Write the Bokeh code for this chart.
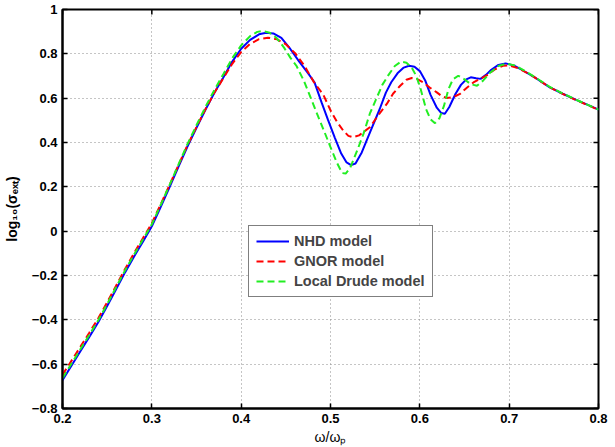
from bokeh.plotting import figure
from bokeh.models import Range1d, FixedTicker, Legend, LegendItem
from bokeh.embed import file_html
from bokeh.resources import INLINE

# Extinction cross-section spectra, log10(sigma_ext) vs omega/omega_p
nhd_x = [0.200, 0.210, 0.220, 0.230, 0.240, 0.250, 0.260, 0.270, 0.280, 0.290,
         0.300, 0.310, 0.320, 0.330, 0.340, 0.350, 0.360, 0.370, 0.380, 0.390,
         0.400, 0.410, 0.420, 0.428, 0.436, 0.445, 0.455, 0.465, 0.475, 0.482,
         0.490, 0.497, 0.505, 0.512, 0.518, 0.523, 0.528, 0.535, 0.545, 0.555,
         0.562, 0.568, 0.575, 0.582, 0.588, 0.594, 0.600, 0.606, 0.612, 0.619,
         0.624, 0.628, 0.633, 0.640, 0.646, 0.652, 0.657, 0.663, 0.668, 0.674,
         0.680, 0.688, 0.696, 0.705, 0.715, 0.730, 0.745, 0.760, 0.775, 0.790,
         0.800]
nhd_y = [-0.672, -0.607, -0.542, -0.477, -0.411, -0.338, -0.262, -0.186, -0.115, -0.048,
         0.022, 0.110, 0.200, 0.292, 0.383, 0.466, 0.548, 0.624, 0.693, 0.765,
         0.823, 0.863, 0.888, 0.895, 0.892, 0.872, 0.822, 0.765, 0.712, 0.672,
         0.581, 0.504, 0.420, 0.350, 0.310, 0.298, 0.305, 0.355, 0.454, 0.550,
         0.625, 0.672, 0.712, 0.738, 0.746, 0.742, 0.722, 0.680, 0.615, 0.557,
         0.533, 0.530, 0.560, 0.620, 0.660, 0.685, 0.694, 0.690, 0.687, 0.705,
         0.728, 0.750, 0.757, 0.748, 0.726, 0.690, 0.650, 0.620, 0.592, 0.566,
         0.548]

gnor_x = [0.200, 0.210, 0.220, 0.230, 0.240, 0.250, 0.260, 0.270, 0.280, 0.290,
          0.300, 0.310, 0.320, 0.330, 0.340, 0.350, 0.360, 0.370, 0.380, 0.390,
          0.400, 0.410, 0.420, 0.430, 0.440, 0.450, 0.461, 0.471, 0.481, 0.492,
          0.500, 0.507, 0.514, 0.520, 0.525, 0.532, 0.544, 0.553, 0.563, 0.570,
          0.578, 0.585, 0.591, 0.597, 0.604, 0.612, 0.619, 0.625, 0.630, 0.637,
          0.645, 0.652, 0.660, 0.668, 0.675, 0.684, 0.693, 0.700, 0.710, 0.725,
          0.745, 0.760, 0.775, 0.790, 0.800]
gnor_y = [-0.648, -0.585, -0.522, -0.458, -0.393, -0.321, -0.246, -0.171, -0.100, -0.032,
          0.036, 0.122, 0.210, 0.300, 0.389, 0.470, 0.550, 0.624, 0.690, 0.755,
          0.808, 0.845, 0.866, 0.873, 0.866, 0.843, 0.800, 0.745, 0.675, 0.615,
          0.545, 0.495, 0.455, 0.430, 0.424, 0.432, 0.469, 0.520, 0.574, 0.620,
          0.656, 0.683, 0.691, 0.686, 0.671, 0.645, 0.626, 0.608, 0.601, 0.604,
          0.619, 0.645, 0.671, 0.688, 0.703, 0.730, 0.746, 0.748, 0.735, 0.703,
          0.650, 0.619, 0.591, 0.565, 0.547]

drude_x = [0.200, 0.210, 0.220, 0.230, 0.240, 0.250, 0.260, 0.270, 0.280, 0.290,
           0.300, 0.310, 0.320, 0.330, 0.340, 0.350, 0.360, 0.370, 0.380, 0.390,
           0.400, 0.410, 0.418, 0.424, 0.432, 0.440, 0.448, 0.455, 0.462, 0.470,
           0.478, 0.485, 0.493, 0.500, 0.507, 0.513, 0.517, 0.522, 0.530, 0.537,
           0.544, 0.552, 0.558, 0.565, 0.572, 0.579, 0.585, 0.591, 0.596, 0.601,
           0.607, 0.612, 0.617, 0.622, 0.627, 0.632, 0.637, 0.643, 0.650, 0.657,
           0.664, 0.671, 0.679, 0.688, 0.697, 0.706, 0.716, 0.730, 0.745, 0.760,
           0.775, 0.790, 0.800]
drude_y = [-0.663, -0.598, -0.533, -0.468, -0.402, -0.329, -0.253, -0.177, -0.106, -0.038,
           0.031, 0.119, 0.210, 0.302, 0.394, 0.478, 0.560, 0.637, 0.708, 0.780,
           0.838, 0.880, 0.899, 0.903, 0.895, 0.870, 0.828, 0.783, 0.745, 0.680,
           0.600, 0.529, 0.450, 0.379, 0.310, 0.262, 0.260, 0.285, 0.365, 0.440,
           0.530, 0.604, 0.660, 0.705, 0.745, 0.765, 0.760, 0.738, 0.700, 0.640,
           0.550, 0.505, 0.487, 0.510, 0.565, 0.640, 0.685, 0.701, 0.685, 0.663,
           0.656, 0.680, 0.716, 0.745, 0.756, 0.748, 0.727, 0.692, 0.652, 0.621,
           0.593, 0.566, 0.548]

series_names = ["NHD model", "GNOR model", "Local Drude model"]

x_ticks = [0.2, 0.3, 0.4, 0.5, 0.6, 0.7, 0.8]
x_tick_labels = ["0.2", "0.3", "0.4", "0.5", "0.6", "0.7", "0.8"]
y_ticks = [-0.8, -0.6, -0.4, -0.2, 0, 0.2, 0.4, 0.6, 0.8, 1]
y_tick_labels = ["\u22120.8", "\u22120.6", "\u22120.4", "\u22120.2", "0",
                 "0.2", "0.4", "0.6", "0.8", "1"]

x_title = "\u03c9/\u03c9\u209a"
y_title = "log\u2081\u2080(\u03c3\u2091\u2093\u209c)"

FONT = "Liberation Sans"
X0, X1 = 0.2, 0.8
Y0, Y1 = -0.8, 1.0
W, H = 615, 447
LEFT, RIGHT, TOP, BOTTOM = 62, 17, 9, 37
FW, FH = W - LEFT - RIGHT, H - TOP - BOTTOM
TICK = 5  # inward tick length, px

p = figure(width=W, height=H, output_backend="svg", toolbar_location=None,
           x_range=Range1d(X0, X1), y_range=Range1d(Y0, Y1),
           min_border_left=LEFT, min_border_right=RIGHT,
           min_border_top=TOP, min_border_bottom=BOTTOM,
           background_fill_color="white", border_fill_color="white")
p.outline_line_color = "black"
p.outline_line_width = 2

p.xaxis.ticker = FixedTicker(ticks=x_ticks)
p.yaxis.ticker = FixedTicker(ticks=y_ticks)
p.xaxis.major_label_overrides = dict(zip(x_ticks, x_tick_labels))
p.yaxis.major_label_overrides = dict(zip(y_ticks, y_tick_labels))
for ax in p.axis:
    ax.major_tick_in = TICK
    ax.major_tick_out = 0
    ax.minor_tick_line_color = None
    ax.major_tick_line_width = 1.5
    ax.major_tick_line_color = "black"
    ax.axis_line_color = "black"
    ax.axis_line_width = 2
    ax.major_label_text_font = FONT
    ax.major_label_text_font_style = "bold"
    ax.major_label_text_font_size = "13px"
    ax.major_label_text_color = "black"
    ax.major_label_standoff = 5
    ax.axis_label_text_font = FONT
    ax.axis_label_text_color = "black"

p.yaxis.axis_label = y_title
p.yaxis.axis_label_text_font_style = "bold"
p.yaxis.axis_label_text_font_size = "14px"
p.yaxis.axis_label_standoff = 9
p.xaxis.axis_label = x_title
p.xaxis.axis_label_text_font_style = "normal"
p.xaxis.axis_label_text_font_size = "14px"
p.xaxis.axis_label_standoff = 3

# inward tick marks on the top and right edges of the box
tx = TICK * (X1 - X0) / FW
ty = TICK * (Y1 - Y0) / FH
p.segment(x0=x_ticks, x1=x_ticks, y0=[Y1] * len(x_ticks), y1=[Y1 - ty] * len(x_ticks),
          line_color="black", line_width=1.5)
p.segment(x0=[X1] * len(y_ticks), x1=[X1 - tx] * len(y_ticks), y0=y_ticks, y1=y_ticks,
          line_color="black", line_width=1.5)

for g in p.grid:
    g.grid_line_color = "#8a8a8a"
    g.grid_line_dash = "1 3"
    g.grid_line_width = 1

r_nhd = p.line(nhd_x, nhd_y, line_color="#0000ff", line_width=2)
r_gnor = p.line(gnor_x, gnor_y, line_color="#ff0000", line_width=2, line_dash="7 4")
r_drude = p.line(drude_x, drude_y, line_color="#22ee22", line_width=2, line_dash="7 4")

legend = Legend(items=[LegendItem(label=series_names[0], renderers=[r_nhd]),
                       LegendItem(label=series_names[1], renderers=[r_gnor]),
                       LegendItem(label=series_names[2], renderers=[r_drude])],
                location=(186, 111))
legend.label_text_font = FONT
legend.label_text_font_style = "bold"
legend.label_text_font_size = "14.5px"
legend.label_height = 16
legend.glyph_height = 16
legend.glyph_width = 33
legend.label_standoff = 5
legend.spacing = 4
legend.padding = 7
legend.margin = 0
legend.border_line_color = "black"
legend.border_line_width = 1.5
legend.background_fill_color = "white"
legend.background_fill_alpha = 1
p.add_layout(legend, "center")

open("out.html", "w").write(file_html(p, INLINE))
